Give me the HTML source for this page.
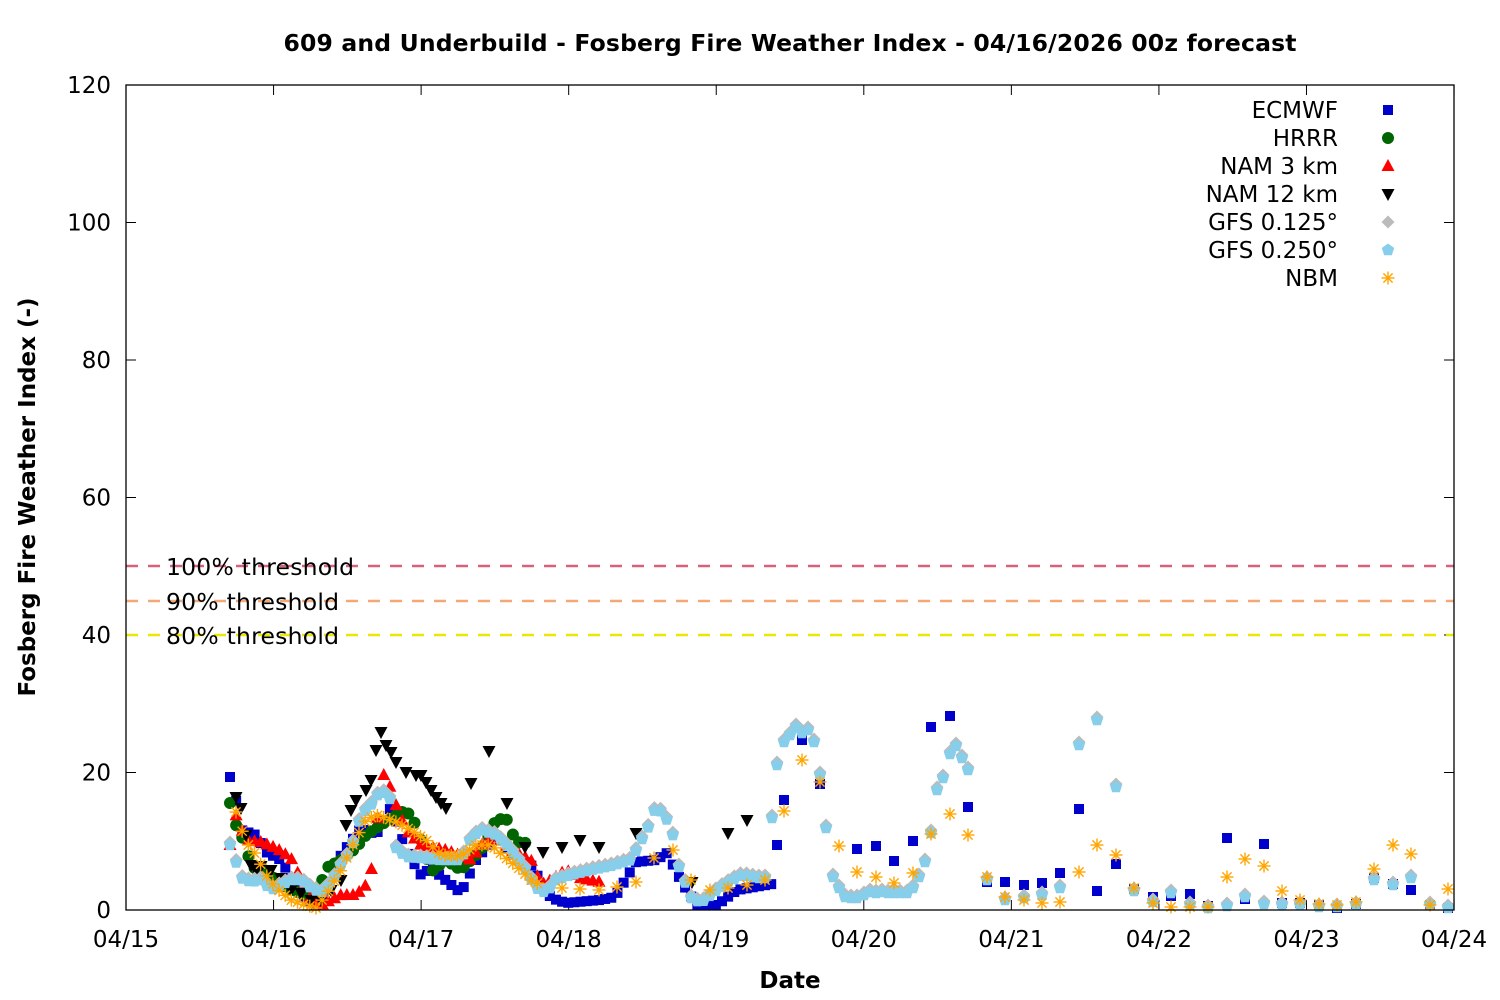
<!DOCTYPE html>
<html><head><meta charset="utf-8"><style>
body{margin:0;background:#fff}
svg{display:block;font-family:"DejaVu Sans","Liberation Sans",sans-serif}
</style></head><body>
<svg id="s" width="1500" height="1000" xmlns="http://www.w3.org/2000/svg">
<rect width="1500" height="1000" fill="#fff"/>
<text x="790" y="51" text-anchor="middle" font-size="23.5" font-weight="bold" textLength="1013">609 and Underbuild - Fosberg Fire Weather Index - 04/16/2026 00z forecast</text>
<text x="790" y="988" text-anchor="middle" font-size="23" font-weight="bold">Date</text>
<text transform="translate(35,497) rotate(-90)" text-anchor="middle" font-size="23" font-weight="bold">Fosberg Fire Weather Index (-)</text>
<g id="ax"></g>
<line x1="126" y1="566" x2="1454" y2="566" stroke="#d9607a" stroke-width="2.5" stroke-dasharray="12,10"/>
<line x1="126" y1="601" x2="1454" y2="601" stroke="#f4a878" stroke-width="2.5" stroke-dasharray="12,10"/>
<line x1="126" y1="635" x2="1454" y2="635" stroke="#e8e800" stroke-width="2.5" stroke-dasharray="12,10"/>
<text x="166" y="575" font-size="23.5" textLength="188">100% threshold</text>
<text x="166" y="610" font-size="23.5" textLength="173">90% threshold</text>
<text x="166" y="644" font-size="23.5" textLength="173">80% threshold</text>
<g id="pts"></g>
<rect x="126" y="85" width="1328" height="825" fill="none" stroke="#000" stroke-width="1.3"/>
<g font-size="23" text-anchor="end">
<text x="1338" y="118">ECMWF</text><text x="1338" y="146">HRRR</text><text x="1338" y="174">NAM 3 km</text>
<text x="1338" y="202">NAM 12 km</text><text x="1338" y="230">GFS 0.125°</text><text x="1338" y="258">GFS 0.250°</text><text x="1338" y="286">NBM</text>
</g>
</svg>
<script>
const NS="http://www.w3.org/2000/svg";
const ax=document.getElementById('ax'),pts=document.getElementById('pts');
function el(p,t,a,txt){const e=document.createElementNS(NS,t);for(const k in a)e.setAttribute(k,a[k]);if(txt)e.textContent=txt;p.appendChild(e);return e;}
for(let i=0;i<=6;i++){const y=910-i*137.5;
 el(ax,'line',{x1:126,y1:y,x2:136,y2:y,stroke:'#000'});el(ax,'line',{x1:1444,y1:y,x2:1454,y2:y,stroke:'#000'});
 el(ax,'text',{x:111,y:y+8,'font-size':23,'text-anchor':'end'},String(i*20));}
for(let i=0;i<=9;i++){const x=126+i*147.56;
 el(ax,'line',{x1:x,y1:910,x2:x,y2:900,stroke:'#000'});el(ax,'line',{x1:x,y1:85,x2:x,y2:95,stroke:'#000'});
 el(ax,'text',{x:x,y:947,'font-size':23,'text-anchor':'middle'},'04/'+(15+i));}
function dense(k,step){const o=[];for(let x=k[0][0];x<=k[k.length-1][0]+0.01;x+=step){let j=0;while(j<k.length-2&&k[j+1][0]<x)j++;const a=k[j],b=k[j+1];const t=(x-a[0])/((b[0]-a[0])||1);o.push([x,a[1]+(b[1]-a[1])*Math.max(0,Math.min(1,t))]);}return o;}
function sq(x,y,c){el(pts,'rect',{x:x-5,y:y-5,width:10,height:10,fill:c});}
function ci(x,y,c){el(pts,'circle',{cx:x,cy:y,r:6,fill:c});}
function hx(x,y,c){el(pts,'polygon',{points:[0,1,2,3,4].map(i=>{const a=-Math.PI/2+i*2*Math.PI/5;return (x+6.5*Math.cos(a))+','+(y+6.5*Math.sin(a));}).join(' '),fill:c});}
function dm(x,y,c){el(pts,'polygon',{points:`${x},${y-6.5} ${x+6.5},${y} ${x},${y+6.5} ${x-6.5},${y}`,fill:c});}
function tu(x,y,c){el(pts,'polygon',{points:`${x},${y-7} ${x+6.5},${y+5} ${x-6.5},${y+5}`,fill:c});}
function td(x,y,c){el(pts,'polygon',{points:`${x},${y+7} ${x+6.5},${y-5} ${x-6.5},${y-5}`,fill:c});}
function st(x,y,c){for(const a of [0,45,90,135]){const r=a*Math.PI/180;el(pts,'line',{x1:x-6.5*Math.cos(r),y1:y-6.5*Math.sin(r),x2:x+6.5*Math.cos(r),y2:y+6.5*Math.sin(r),stroke:c,'stroke-width':1.4});}}
const gfsK=[[230,845],[236,862],[241,878],[251,882],[261,880],[271,890],[281,885],[291,880],[301,880],[311,888],[321,893],[331,883],[341,865],[351,850],[361,815],[371,805],[381,790],[391,800],[396,848],[406,857],[421,858],[441,860],[461,860],[471,838],[481,830],[496,835],[511,850],[526,870],[536,888],[546,893],[556,880],[571,875],[591,870],[611,866],[631,860],[651,822],[656,805],[661,812],[667,820],[672,830],[677,862],[692,900],[702,902],[717,890],[732,880],[742,875],[757,878],[766,878]];
let gfs=dense(gfsK,6.15);
gfs=gfs.concat([[772,818],[777,765],[784,742],[790,735],[796,727],[802,733],[808,730],[814,742],[820,775],[826,828],[833,877],[839,888],[845,897],[851,898],[857,898],[864,895],[870,892],[876,893],[882,892],[888,893],[894,893],[900,893],[907,893],[913,888],[919,877],[925,862],[931,833],[937,790],[943,778],[950,754],[956,746],[962,758],[968,770],[987,880],[1005,900],[1024,898],[1042,895],[1060,888],[1079,745],[1097,720],[1116,787],[1134,891],[1153,902],[1171,893],[1190,905],[1208,908],[1227,906],[1245,897],[1264,904],[1282,905],[1300,905],[1319,907],[1337,907],[1356,905],[1374,880],[1393,885],[1411,878],[1430,905],[1448,908]]);
let ec=dense([[230,777],[236,800],[241,830],[256,835],[266,852],[281,860],[301,895],[316,905],[326,896],[341,855],[361,828],[376,835],[391,807],[406,850],[421,875],[431,868],[461,893],[476,860],[496,835],[516,858],[531,865],[551,898],[566,903],[600,900],[615,897],[636,862],[656,860],[667,853],[682,883],[697,905],[717,905],[737,890],[772,884]],6.15);
ec=ec.concat([[777,845],[784,800],[802,740],[820,784],[857,849],[876,846],[894,861],[913,841],[931,727],[950,716],[968,807],[987,882],[1005,882],[1024,885],[1042,883],[1060,873],[1079,809],[1097,891],[1116,864],[1134,889],[1153,897],[1171,896],[1190,894],[1208,906],[1227,838],[1245,899],[1264,844],[1282,903],[1300,903],[1319,905],[1337,908],[1356,904],[1374,878],[1393,884],[1411,890],[1430,905],[1448,908]]);
const hr=dense([[230,803],[236,825],[241,835],[246,845],[251,868],[261,868],[276,880],[291,890],[301,893],[316,900],[326,868],[341,860],[356,848],[366,835],[381,825],[391,818],[406,810],[416,825],[431,872],[446,860],[461,870],[481,850],[496,820],[506,818],[516,842],[526,843]],6.15);
const n3=dense([[230,845],[236,815],[246,840],[261,842],[276,848],[291,858],[301,880],[311,900],[321,905],[331,900],[341,895],[356,895],[366,885],[371,872],[376,838],[381,775],[386,775],[396,805],[406,830],[421,845],[446,850],[471,860],[481,845],[496,835],[511,850],[531,860],[541,885],[551,880],[566,870],[580,878],[600,882]],6.15);
const n12=[[236,797],[241,808],[246,835],[251,865],[256,870],[261,866],[271,870],[281,878],[291,890],[301,893],[311,900],[321,900],[331,890],[341,880],[346,825],[351,810],[356,800],[366,790],[371,780],[376,750],[381,732],[386,745],[391,752],[396,762],[406,772],[416,775],[421,775],[426,782],[431,790],[436,797],[441,803],[446,808],[471,783],[489,751],[507,803],[525,847],[543,852],[562,847],[580,840],[599,847],[636,833],[692,882],[728,833],[747,820]];
let nb=dense([[236,812],[241,828],[246,842],[256,855],[266,875],[276,888],[291,900],[306,905],[316,908],[326,895],[341,870],[356,838],[366,820],[376,815],[386,818],[396,822],[411,830],[426,840],[441,855],[461,856],[476,845],[491,845],[506,858],[521,870],[531,880],[541,885]],6.15);
nb=nb.concat([[562,888],[580,889],[599,890],[617,887],[636,882],[654,858],[673,850],[691,880],[710,890],[728,888],[747,885],[765,880],[784,811],[802,760],[820,782],[839,846],[857,872],[876,877],[894,883],[913,873],[931,834],[950,814],[968,835],[987,877],[1005,897],[1024,900],[1042,903],[1060,902],[1079,872],[1097,845],[1116,855],[1134,888],[1153,903],[1171,907],[1190,907],[1208,907],[1227,877],[1245,859],[1264,866],[1282,891],[1300,900],[1319,904],[1337,905],[1356,902],[1374,869],[1393,845],[1411,854],[1430,905],[1448,889]]);
ec.forEach(p=>sq(p[0],p[1],'#0000cc'));
hr.forEach(p=>ci(p[0],p[1],'#006400'));
n3.forEach(p=>tu(p[0],p[1],'#ff0000'));
n12.forEach(p=>td(p[0],p[1],'#000'));
gfs.forEach(p=>dm(p[0],p[1]-3,'#bbbbbb'));
gfs.forEach(p=>hx(p[0],p[1],'#87ceeb'));
nb.forEach(p=>st(p[0],p[1],'#ffa500'));
sq(1388,110,'#0000cc');ci(1388,138,'#006400');tu(1388,166,'#ff0000');td(1388,194,'#000');dm(1388,222,'#bbbbbb');hx(1388,250,'#87ceeb');st(1388,278,'#ffa500');
</script>
</body></html>
